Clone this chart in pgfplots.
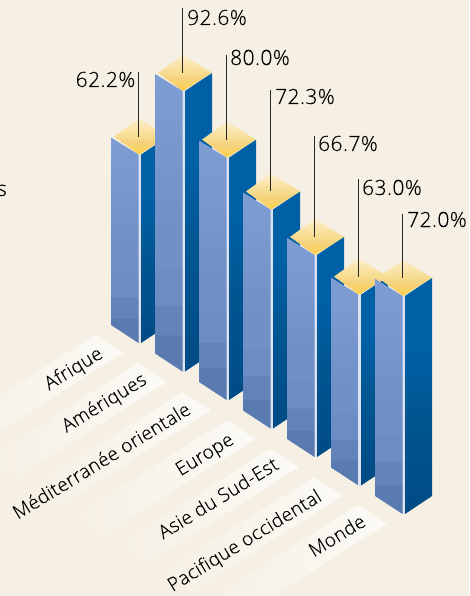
\documentclass[border=0pt]{standalone}
\usepackage{fontspec}
\setmainfont{Open Sans Light}[LetterSpace=2,FakeBold=0.25]
\usepackage{pgfplots}
\pgfplotsset{compat=1.18}
\definecolor{bgcol}{HTML}{F6F0E4}
\definecolor{bandcol}{HTML}{FBFAF6}
\definecolor{edgecol}{HTML}{DDE4F0}
\definecolor{leftA}{HTML}{5A7BB1}
\definecolor{leftB}{HTML}{6384BB}
\definecolor{leftC}{HTML}{6B8DC3}
\definecolor{leftD}{HTML}{7091C8}
\definecolor{leftE}{HTML}{7797CE}
\definecolor{leftF}{HTML}{7E9DD3}
\definecolor{rightA}{HTML}{004B84}
\definecolor{rightB}{HTML}{004F8B}
\definecolor{rightC}{HTML}{005690}
\definecolor{rightD}{HTML}{0060A6}
\definecolor{topA}{HTML}{FFCF45}
\definecolor{topB}{HTML}{F9D266}
\definecolor{topC}{HTML}{F5D27F}
\definecolor{topD}{HTML}{F6DC8E}
\definecolor{topE}{HTML}{FDEDCB}
%% banded face colours, bottom to top (path fills 25bp..75bp)
\pgfdeclareverticalshading{leftface}{100bp}{
  color(0bp)=(leftA); color(25bp)=(leftA); color(31bp)=(leftA); color(31.3bp)=(leftB);
  color(36bp)=(leftB); color(36.3bp)=(leftC); color(42bp)=(leftC); color(42.3bp)=(leftD);
  color(50bp)=(leftD); color(62bp)=(leftE); color(75bp)=(leftF); color(100bp)=(leftF)}
\pgfdeclareverticalshading{rightface}{100bp}{
  color(0bp)=(rightA); color(25bp)=(rightA); color(34bp)=(rightB); color(46bp)=(rightC);
  color(60bp)=(rightD); color(75bp)=(rightD); color(100bp)=(rightD)}
\pgfdeclareverticalshading{topface}{100bp}{
  color(0bp)=(topA); color(25bp)=(topA); color(34bp)=(topB); color(43bp)=(topC);
  color(50bp)=(topD); color(75bp)=(topE); color(100bp)=(topE)}
\tikzset{
  vallab/.style={font=\fontsize{21}{21}\selectfont,inner sep=0pt,text=black},
  catlab/.style={font=\fontsize{19}{19}\selectfont,inner sep=0pt,rotate=31.5,anchor=base east,text=black},
}

%% one column: front x, front foot y, value in percent, leader length
\newcommand\isobar[4]{%
  \pgfmathsetmacro\ft{#2-3.03*#3}%
  \pgfmathsetmacro\xl{#1-28}\pgfmathsetmacro\xf{#1+2}\pgfmathsetmacro\xr{#1+29}%
  \pgfmathsetmacro\ltop{\ft-17}\pgfmathsetmacro\lbot{#2-18}%
  \pgfmathsetmacro\dl{#1-25}\pgfmathsetmacro\dm{\ft-18}\pgfmathsetmacro\da{\ft-36}%
  \addplot[fill=edgecol,draw=none] coordinates {(#1-1,\ft) (\xf,\ft) (\xf,#2) (#1-1,#2)} --cycle;
  \addplot[shading=leftface,draw=none] coordinates {(\xl,\ltop) (#1-0.5,\ft) (#1-0.5,#2) (\xl,\lbot)} --cycle;
  \addplot[shading=rightface,draw=none] coordinates {(\xf,\ft) (\xr,\dm) (\xr,\lbot) (\xf,#2)} --cycle;
  \addplot[shading=topface,draw=none] coordinates {(\dl,\dm) (#1,\da) (\xr,\dm) (#1,\ft)} --cycle;
  \addplot[black!85,line width=0.9pt] coordinates {(#1-0.5,\dm) (#1-0.5,\dm-#4)};
}
\newcommand\labelband[4]{%
  \addplot[left color=bgcol,right color=bandcol,draw=none] coordinates
    {(#1,#2) (#3,#4) (#3-150,#4+95) (#1-150,#2+95)} --cycle;
}

\begin{document}
\begin{tikzpicture}[x=1pt,y=1pt]
\path[use as bounding box] (0,0) rectangle (469,596);
\clip (0,0) rectangle (469,596);
\begin{axis}[
  at={(0,0)}, anchor=south west,
  scale only axis, width=469pt, height=596pt,
  xmin=0, xmax=469, ymin=0, ymax=596, y dir=reverse,
  hide axis, clip=false,
]
\addplot[fill=bgcol,draw=none] coordinates {(0,0) (469,0) (469,596) (0,596)} --cycle;

\labelband{95}{335}{123}{353}
\labelband{138.3}{363}{166.7}{382}
\labelband{182}{392}{211}{410}
\labelband{226.7}{420}{255}{439}
\labelband{270}{449}{299}{467}
\labelband{314}{477}{342.7}{495.7}
\labelband{358}{505}{386.7}{524}

\isobar{139}{343}{62.2}{65}
\isobar{183}{371.5}{92.6}{65}
\isobar{227}{400}{80.0}{85}
\isobar{271}{428.5}{72.3}{101}
\isobar{315}{457}{66.7}{101}
\isobar{359}{485.5}{63.0}{98}
\isobar{403}{514}{72.0}{64}

\node[vallab,anchor=base east] at (axis cs:135.5,87) {62.2\%};
\node[vallab,anchor=base west] at (axis cs:187,25) {92.6\%};
\node[vallab,anchor=base west] at (axis cs:230,65) {80.0\%};
\node[vallab,anchor=base west] at (axis cs:275,104) {72.3\%};
\node[vallab,anchor=base west] at (axis cs:318,151) {66.7\%};
\node[vallab,anchor=base west] at (axis cs:362,195) {63.0\%};
\node[vallab,anchor=base west] at (axis cs:407,227) {72.0\%};

\node[catlab] at (axis cs:104,357) {Afrique};
\node[catlab] at (axis cs:148,383) {Amériques};
\node[catlab] at (axis cs:192,413) {Méditerranée orientale};
\node[catlab] at (axis cs:235,443) {Europe};
\node[catlab] at (axis cs:280,468) {Asie du Sud-Est};
\node[catlab] at (axis cs:323,500) {Pacifique occidental};
\node[catlab] at (axis cs:367,525) {Monde};

\node[vallab,anchor=base east] at (axis cs:7,196) {s};
\end{axis}
\end{tikzpicture}
\end{document}
